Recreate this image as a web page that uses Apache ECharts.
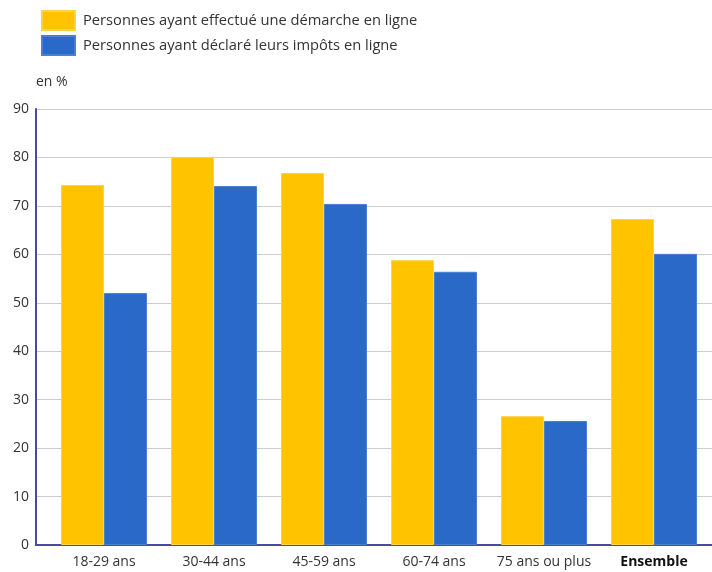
<!DOCTYPE html>
<html>
<head>
<meta charset="utf-8">
<script src="https://cdn.jsdelivr.net/npm/echarts@6/dist/echarts.min.js"></script>
<style>
  html, body { margin: 0; padding: 0; background: #fff; }
  #chart { width: 712px; height: 572px; }
</style>
</head>
<body>
<div id="chart"></div>
<script>
const categories = ['18-29 ans', '30-44 ans', '45-59 ans', '60-74 ans', '75 ans ou plus', 'Ensemble'];
const demarche = [74.3, 80.1, 76.8, 58.8, 26.6, 67.3];
const impots = [52.0, 74.1, 70.4, 56.4, 25.6, 60.1];
const seriesNames = ['Personnes ayant effectué une démarche en ligne', 'Personnes ayant déclaré leurs impôts en ligne'];

const chart = echarts.init(document.getElementById('chart'));
const font = '"Open Sans", "Noto Sans", sans-serif';
const axisColor = '#4a4aa0';

const option = {
  animation: false,
  textStyle: { fontFamily: font },
  legend: {
    orient: 'vertical',
    left: 36,
    top: 5,
    itemWidth: 33,
    itemHeight: 19,
    itemGap: 4,
    icon: 'rect',
    selectedMode: false,
    textStyle: { color: '#333', fontSize: 14.7, fontFamily: font, padding: [0, 0, 0, 3] },
    data: seriesNames
  },
  grid: [
    // background grid: split lines + axis lines
    { left: 36, right: 0, top: 109, bottom: 27 },
    // bars
    { left: 49, right: 3, top: 109, bottom: 27 }
  ],
  xAxis: [
    {
      type: 'category', gridIndex: 0, data: [''],
      axisLine: { lineStyle: { color: axisColor, width: 2 } },
      axisTick: { show: false }, axisLabel: { show: false }
    },
    {
      type: 'category', gridIndex: 1, data: categories,
      axisLine: { show: false },
      axisTick: { show: false },
      axisLabel: {
        interval: 0,
        color: '#333', fontSize: 14, fontFamily: font, margin: 10,
        formatter: function (v) { return v === 'Ensemble' ? '{b|' + v + '}' : v; },
        rich: { b: { fontWeight: 'bold', color: '#111', fontSize: 14, fontFamily: font } }
      }
    }
  ],
  yAxis: [
    {
      type: 'value', gridIndex: 0, min: 0, max: 90, interval: 10,
      name: 'en %',
      nameLocation: 'end',
      nameGap: 20,
      nameTextStyle: { color: '#333', fontSize: 14, fontFamily: font, align: 'left' },
      axisLine: { show: true, lineStyle: { color: axisColor, width: 2 } },
      axisTick: { show: false },
      axisLabel: { color: '#333', fontSize: 14, fontFamily: font, margin: 7 },
      splitLine: { lineStyle: { color: '#cccccc', width: 1 } }
    },
    {
      type: 'value', gridIndex: 1, min: 0, max: 90, interval: 10,
      axisLine: { show: false }, axisTick: { show: false },
      axisLabel: { show: false }, splitLine: { show: false }
    }
  ],
  series: [
    {
      name: seriesNames[0], type: 'bar', xAxisIndex: 1, yAxisIndex: 1,
      data: demarche, barWidth: 43, barGap: '0%',
      itemStyle: { color: '#ffc300', borderColor: '#ffd24a', borderWidth: 1 }
    },
    {
      name: seriesNames[1], type: 'bar', xAxisIndex: 1, yAxisIndex: 1,
      data: impots, barWidth: 43, barGap: '0%',
      itemStyle: { color: '#2a69c8', borderColor: '#4a80d2', borderWidth: 1 }
    }
  ]
};

chart.setOption(option);
</script>
</body>
</html>
